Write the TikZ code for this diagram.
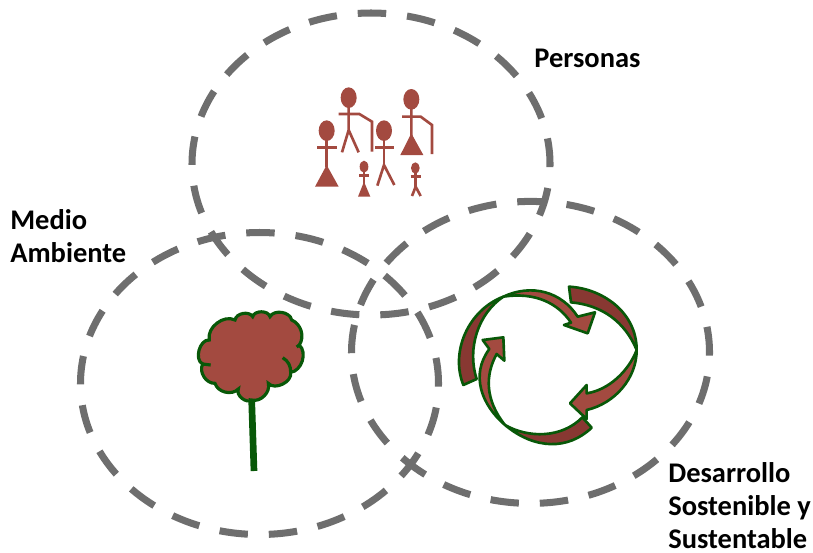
\documentclass[tikz,border=0pt]{standalone}
\usepackage{fontspec}
\setmainfont{Carlito}
\definecolor{ringgray}{RGB}{110,110,110}
\definecolor{brick}{RGB}{163,74,64}
\definecolor{darkbrick}{RGB}{136,56,50}
\definecolor{leaf}{RGB}{8,88,8}
\begin{document}
\begin{tikzpicture}[x=0.02cm,y=-0.02cm,
ring/.style={draw=ringgray,line width=4pt,dash pattern=on 16.2pt off 11.94pt,dash phase=14.4pt},
label node/.style={anchor=north west,align=left,inner sep=0pt,font=\fontsize{16.2}{18.8}\selectfont\bfseries},
stick/.style={draw=brick,line width=1.5pt},
head/.style={fill=brick},
ribbon/.style={draw=leaf,line width=1.5pt,line join=round,fill=brick},
ribbon back/.style={ribbon,fill=darkbrick}]
\useasboundingbox (0,0) rectangle (813,552);
% rings
\draw [ring] (371,164) ellipse [x radius=179,y radius=151];
\draw [ring] (259.5,383.5) ellipse [x radius=179,y radius=151];
\draw [ring] (530.5,352.4) ellipse [x radius=179,y radius=151];
% labels
\node [label node](personas) at (534,49) {Personas};
\node [label node](medio) at (10,209) {Medio\\Ambiente};
\node [label node](desarrollo) at (668,462) {Desarrollo\\Sostenible y\\Sustentable};
% people
\begin{scope}[shift={(290,70)},scale=1/3]
\fill [head] (176,83) ellipse [x radius=24,y radius=31];
\draw [stick] (146,132) -- (208,132) -- (246,155) -- (246,245);
\draw [stick] (156,247) -- (176,180) -- (206,247) (176,110) -- (176,180);
\fill [head] (110,182) ellipse [x radius=24,y radius=31];
\draw [stick] (82,233) -- (140,233) (110,210) -- (110,290);
\fill [brick] (110,285) -- (146,350) -- (75,350) -- cycle;
\fill [head] (282,182) ellipse [x radius=24,y radius=31];
\draw [stick] (255,233) -- (312,233) (282,210) -- (282,285);
\draw [stick] (262,347) -- (282,285) -- (313,345);
\fill [head] (364,88) ellipse [x radius=24,y radius=31];
\draw [stick] (336,140) -- (392,140) -- (426,165) -- (426,252) (364,115) -- (364,200);
\fill [brick] (364,190) -- (400,255) -- (331,255) -- cycle;
\fill [head] (222,290) ellipse [x radius=13,y radius=18];
\draw [stick] (207,316) -- (237,316) (222,305) -- (222,345);
\fill [brick] (222,335) -- (241,380) -- (204,380) -- cycle;
\fill [head] (376,294) ellipse [x radius=13,y radius=17];
\draw [stick] (362,320) -- (392,320) (377,308) -- (377,350);
\draw [stick] (366,378) -- (377,350) -- (392,378);
\end{scope}
% tree
\begin{scope}[shift={(180,295)},scale=1/3]
\draw [leaf,line width=3.8pt] (215,315) -- (222,528);
\draw [draw=leaf,line width=1.8pt,fill=brick] (215,315)
    to [bend left=75] (175,282)
    to [bend left=60] (105,265)
    to [bend left=60] (68,207)
    to [bend left=80] (88,135)
    to [bend left=65] (165,75)
    to [bend left=70] (218,65)
    to [bend left=75] (270,65)
    to [bend left=70] (335,75)
    to [bend left=50] (358,150)
    to [bend left=65] (332,232)
    to [bend left=75] (265,265)
    to [bend left=60] cycle;
\draw [leaf,line width=1.8pt] (308,188) to [bend left=30] (332,232);
\draw [leaf,line width=1.8pt] (68,207) -- (92,210) (358,150) -- (350,156);
\end{scope}
% cycle arrows
\begin{scope}[shift={(445,275)},scale=1/3]
\draw [ribbon back] (372,35) .. controls (470,40) and (575,110) .. (575,225)
    .. controls (540,140) and (470,90) .. (378,82) -- cycle;
\draw [ribbon back] (440,458) .. controls (370,525) and (270,525) .. (180,450)
    .. controls (250,490) and (350,490) .. (412,427) -- cycle;
\draw [ribbon back] (55,330) .. controls (15,230) and (70,105) .. (175,65)
    .. controls (100,115) and (65,220) .. (95,312) -- cycle;
\draw [ribbon] (175,65) .. controls (260,25) and (350,50) .. (398,125)
    -- (450,112) -- (428,175) -- (357,150) -- (378,143)
    .. controls (340,85) and (270,50) .. (175,65) -- cycle;
\draw [ribbon] (575,225) .. controls (575,310) and (510,385) .. (425,405)
    -- (425,432) -- (375,385) -- (425,330) -- (425,355)
    .. controls (490,345) and (550,290) .. (575,225) -- cycle;
\draw [ribbon] (180,450) .. controls (110,390) and (75,300) .. (133,222)
    -- (113,195) -- (175,187) -- (178,257) -- (155,237)
    .. controls (120,300) and (120,375) .. (180,450) -- cycle;
\end{scope}
\end{tikzpicture}
\end{document}
